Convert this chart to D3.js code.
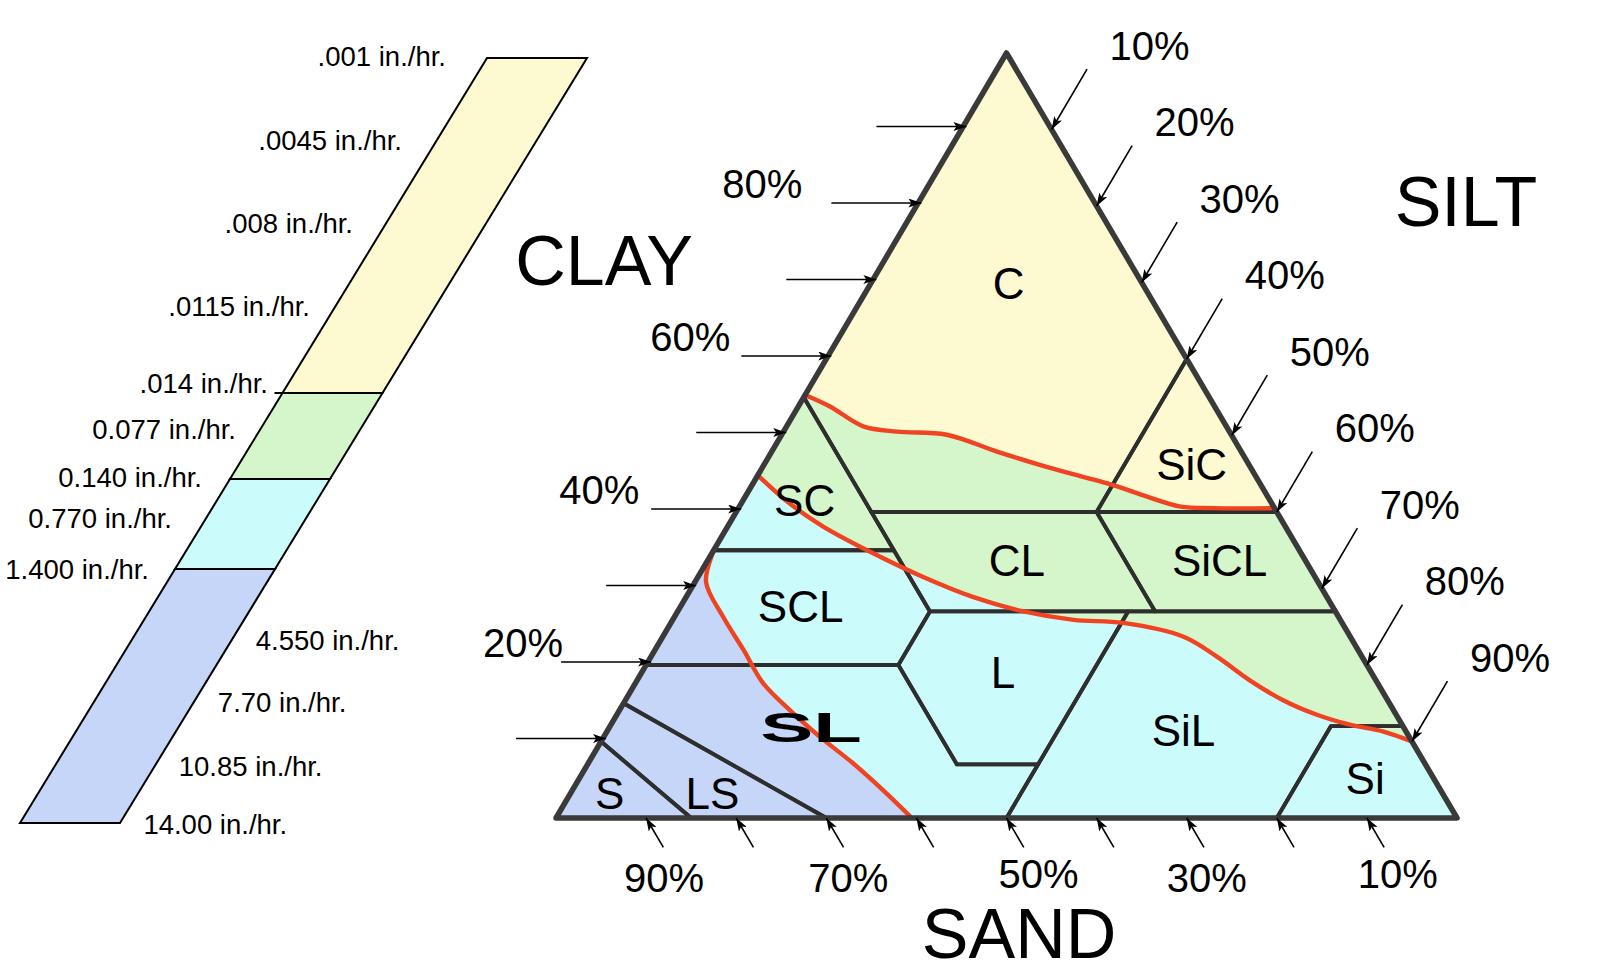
<!DOCTYPE html>
<html><head><meta charset="utf-8">
<script src="https://cdn.jsdelivr.net/npm/d3@7"></script>
<style>
body{margin:0;background:#fff}
svg{display:block}
text{font-family:"Liberation Sans",Arial,Helvetica,sans-serif;fill:#000}
</style>
</head><body>
<svg id="chart" width="1600" height="980"></svg>
<script>
// ---------------- DATA ----------------
// Infiltration-rate legend: labels in order from top to bottom of the bar
const rateLabels = [".001 in./hr.", ".0045 in./hr.", ".008 in./hr.", ".0115 in./hr.", ".014 in./hr.",
  "0.077 in./hr.", "0.140 in./hr.", "0.770 in./hr.", "1.400 in./hr.",
  "4.550 in./hr.", "7.70 in./hr.", "10.85 in./hr.", "14.00 in./hr."];
const rateLabelSide = ["left","left","left","left","left","left","left","left","left","right","right","right","right"];
// band boundaries, as indices into rateLabels
const bandStops = [0, 4, 6, 8, 12];
const bandColors = ["#fdf9d1", "#d5f6ca", "#ccfbfb", "#c6d6f8"];

// Soil texture classes; vertices as [sand, silt, clay] percent
const textureNames = ["C","SiC","SC","CL","SiCL","SCL","L","SL","SiL","Si","LS","S"];
const texturePolygons = [
  [[0,0,100],[45,0,55],[45,15,40],[20,40,40],[0,40,60]],
  [[0,40,60],[20,40,40],[0,60,40]],
  [[45,0,55],[65,0,35],[45,20,35]],
  [[45,15,40],[45,28,27],[20,53,27],[20,40,40]],
  [[20,40,40],[20,53,27],[0,73,27],[0,60,40]],
  [[65,0,35],[80,0,20],[52,28,20],[45,28,27],[45,20,35]],
  [[45,28,27],[52,28,20],[52,41,7],[43,50,7],[23,50,27]],
  [[80,0,20],[85,0,15],[70,30,0],[50,50,0],[43,50,7],[52,41,7],[52,28,20]],
  [[23,50,27],[50,50,0],[20,80,0],[8,80,12],[0,88,12],[0,73,27]],
  [[8,80,12],[20,80,0],[0,100,0],[0,88,12]],
  [[85,0,15],[90,0,10],[85,15,0],[70,30,0]],
  [[90,0,10],[100,0,0],[85,15,0]]
];
const textureLabelPos = [
  [14.8,15.3,69.9],[6.3,47.4,46.3],[51.6,6.8,41.6],[32,34.3,33.7],[9.5,56.8,33.7],
  [59,13.3,27.7],[40.9,40.1,19],[65.7,22.3,12],[24.6,63.9,11.5],[7.6,87.2,5.2],
  [81,15.7,3.3],[92.4,4.3,3.3]
];

// Infiltration boundaries (red curves); [sand, silt, clay]
const upperBoundary = [[44.7,0,55.3],[42.7,3.5,53.8],[40.3,8.5,51.2],[36.9,12.6,50.5],[31.6,18.3,50.1],
  [27.1,25.0,47.9],[22.6,31.5,45.9],[16.4,40.1,43.5],[13.4,44.6,42.0],[10.3,49.0,40.7],[6.8,52.7,40.5],[0,59.5,40.5]];
const middleBoundary = [[55.2,0,44.8],[53.5,5.4,41.1],[51.3,10.6,38.1],[47.5,17.9,34.6],[43.5,25.0,31.5],
  [39.3,31.8,28.9],[34.6,38.4,27.0],[29.6,44.5,25.9],[24.3,50.2,25.5],[18.5,57.8,23.7],[16.1,62.8,21.1],
  [14.0,68.0,18.0],[11.6,73.0,15.4],[8.8,77.7,13.5],[5.8,82.0,12.2],[2.5,86.2,11.3],[0,90,10]];
const lowerBoundary = [[66.2,0,35.2],[67.9,1.2,30.9],[68.3,5.4,26.3],[68.2,9.8,22.0],[68.2,14.2,17.6],
  [67.0,18.9,14.1],[65.4,24.0,10.6],[63.45,29.4,7.15],[61.7,35.1,3.2],[60.5,39.5,0]];

// Axis ticks
const clayTicks = [10,20,30,40,50,60,70,80,90];
const clayTickLabels = [80,60,40,20];
const siltTicks = [10,20,30,40,50,60,70,80,90];
const siltTickLabels = [10,20,30,40,50,60,70,80,90];
const sandTicks = [10,20,30,40,50,60,70,80,90];
const sandTickLabels = [90,70,50,30,10];

// ---------------- DRAWING ----------------
const svg = d3.select("#chart");

// ternary scales: u = silt + clay/2 (horizontal), clay (vertical)
const ux = d3.scaleLinear().domain([0,100]).range([556,1457]);
const cy = d3.scaleLinear().domain([0,100]).range([818,53]);
const proj = p => [ux(p[1] + p[2]/2), cy(p[2])];

const line = d3.line();
const curve = d3.line().curve(d3.curveCatmullRom.alpha(0.5));
const corner = {clay:[0,0,100], sand:[100,0,0], silt:[0,100,0]};

function smoothPts(pts){
  const path = document.createElementNS("http://www.w3.org/2000/svg","path");
  path.setAttribute("d", curve(pts.map(proj)));
  const L = path.getTotalLength();
  const out = [];
  const n = Math.max(20, Math.round(L/3));
  for(let i=0;i<=n;i++){ const q = path.getPointAtLength(L*i/n); out.push([q.x,q.y]); }
  return out;
}
const upS = smoothPts(upperBoundary), midS = smoothPts(middleBoundary), lowS = smoothPts(lowerBoundary);
const zones = [
  [proj(corner.clay), ...upS],
  [...upS, ...midS.slice().reverse()],
  [...midS, proj(corner.silt), ...lowS.slice().reverse()],
  [...lowS, proj(corner.sand)]
];
svg.append("g").selectAll("path").data(zones).join("path")
  .attr("d", d => line(d) + "Z")
  .attr("fill", (d,i) => bandColors[i])
  .attr("stroke", (d,i) => bandColors[i]).attr("stroke-width", 0.8);

// texture class boundaries
svg.append("g").selectAll("path").data(texturePolygons).join("path")
  .attr("d", d => line(d.map(proj)) + "Z")
  .attr("fill","none").attr("stroke","#2e2e2e").attr("stroke-width",3.8)
  .attr("stroke-linejoin","round");

// red infiltration boundaries
svg.append("g").selectAll("path").data([upperBoundary, middleBoundary, lowerBoundary]).join("path")
  .attr("d", d => curve(d.map(proj)))
  .attr("fill","none").attr("stroke","#ef4322").attr("stroke-width",4.4)
  .attr("stroke-linecap","round");

// triangle outline
svg.append("path")
  .attr("d", line([corner.sand, corner.clay, corner.silt].map(proj)) + "Z")
  .attr("fill","none").attr("stroke","#3a3a3a").attr("stroke-width",5.5).attr("stroke-linejoin","round");

// arrowheads
svg.append("defs").append("marker").attr("id","ah")
  .attr("markerUnits","userSpaceOnUse").attr("markerWidth",13).attr("markerHeight",9)
  .attr("refX",13).attr("refY",4.5).attr("orient","auto")
  .append("path").attr("d","M0,0 L13,4.5 L0,9 L3,4.5 Z").attr("fill","#000");

function unit(a,b){ const dx=b[0]-a[0], dy=b[1]-a[1], l=Math.hypot(dx,dy); return [dx/l, dy/l]; }
const dirLeftEdge = unit(proj(corner.sand), proj(corner.clay));   // up-right
const dirRightEdge = unit(proj(corner.clay), proj(corner.silt));  // down-right

const arrows = [];
clayTicks.forEach(c => { const e = proj([100-c,0,c]); const t=[e[0]+5, e[1]-3]; arrows.push({tip:t, tail:[t[0]-90, t[1]]}); });
siltTicks.forEach(s => { const t = proj([0,s,100-s]); arrows.push({tip:t, tail:[t[0]+70*dirLeftEdge[0], t[1]+70*dirLeftEdge[1]]}); });
sandTicks.forEach(s => { const t = proj([s,100-s,0]); arrows.push({tip:t, tail:[t[0]+34*dirRightEdge[0], t[1]+34*dirRightEdge[1]]}); });
svg.append("g").selectAll("line").data(arrows).join("line")
  .attr("x1",d=>d.tail[0]).attr("y1",d=>d.tail[1]).attr("x2",d=>d.tip[0]).attr("y2",d=>d.tip[1])
  .attr("stroke","#000").attr("stroke-width",1.6).attr("marker-end","url(#ah)");

// tick labels
const clayLabelDx = [-154,-136,-137,-123];
const sandLabelDx = [18,22,32,20,31];
const sandLabelDy = [60,60,56,60,56];
const gT = svg.append("g").attr("font-size",40).attr("text-anchor","middle");
gT.selectAll("text.c").data(clayTickLabels).join("text").attr("class","c")
  .attr("x", (c,i) => proj([100-c,0,c])[0] + clayLabelDx[i]).attr("y", c => proj([100-c,0,c])[1] - 22)
  .attr("dy","0.36em").text(c => c + "%");
gT.selectAll("text.s").data(siltTickLabels).join("text").attr("class","s")
  .attr("x", s => proj([0,s,100-s])[0] + 98).attr("y", s => proj([0,s,100-s])[1] - 84)
  .attr("dy","0.36em").text(s => s + "%");
gT.selectAll("text.d").data(sandTickLabels).join("text").attr("class","d")
  .attr("x", (s,i) => proj([s,100-s,0])[0] + sandLabelDx[i]).attr("y", (s,i) => proj([s,100-s,0])[1] + sandLabelDy[i])
  .attr("dy","0.36em").text(s => s + "%");

// texture class labels
const gL = svg.append("g").attr("text-anchor","middle");
textureNames.forEach((n,i) => {
  const p = proj(textureLabelPos[i]);
  if(n === "SL"){
    gL.append("text").attr("transform",`translate(${p[0]},${p[1]}) scale(1.85,1)`)
      .attr("font-size",43).attr("font-weight","bold").attr("dy","0.36em").text(n);
  } else {
    gL.append("text").attr("x",p[0]).attr("y",p[1]).attr("font-size",44).attr("dy","0.36em").text(n);
  }
});

// axis titles
const gA = svg.append("g").attr("font-size",70).attr("text-anchor","middle");
gA.append("text").attr("x",604).attr("y",285).text("CLAY");
gA.append("text").attr("x",1466).attr("y",226).text("SILT");
gA.append("text").attr("x",1019).attr("y",958).text("SAND");

// ---------------- LEGEND BAR ----------------
const ly = d3.scaleLinear().domain(bandStops).range([58,393,479,569,823]);
const lx = d3.scaleLinear().domain([58,823]).range([487,20]);
const bw = 100;
// label placement along the bar
const labelY = d3.scaleLinear().domain(d3.range(13)).range([56,140,223,306,383,429,477,518,569,640,702,766,824]);
const leftLabelX = d3.scaleLinear().domain([56,140,223,306,383,429,477,518,569]).range([446,402,353,310,268,236,202,172,149]);
const gB = svg.append("g");
bandColors.forEach((col,i) => {
  const y0 = ly(bandStops[i]), y1 = ly(bandStops[i+1]);
  gB.append("path")
    .attr("d", line([[lx(y0),y0],[lx(y0)+bw,y0],[lx(y1)+bw,y1],[lx(y1),y1]]) + "Z")
    .attr("fill", col).attr("stroke","#000").attr("stroke-width",2).attr("stroke-linejoin","miter");
});
// short lead-in tick at the .014 break
gB.append("line").attr("x1", lx(ly(4)) - 8).attr("x2", lx(ly(4))).attr("y1", ly(4)).attr("y2", ly(4))
  .attr("stroke","#000").attr("stroke-width",2);
gB.selectAll("text").data(rateLabels).join("text")
  .attr("font-size",27.5)
  .attr("text-anchor",(d,i)=> rateLabelSide[i]==="left" ? "end" : "start")
  .attr("x",(d,i)=> { const y = labelY(i); return rateLabelSide[i]==="left" ? leftLabelX(y) : lx(y) + bw + 24; })
  .attr("y",(d,i)=> labelY(i))
  .attr("dy","0.36em")
  .text(d=>d);
</script>
</body></html>
